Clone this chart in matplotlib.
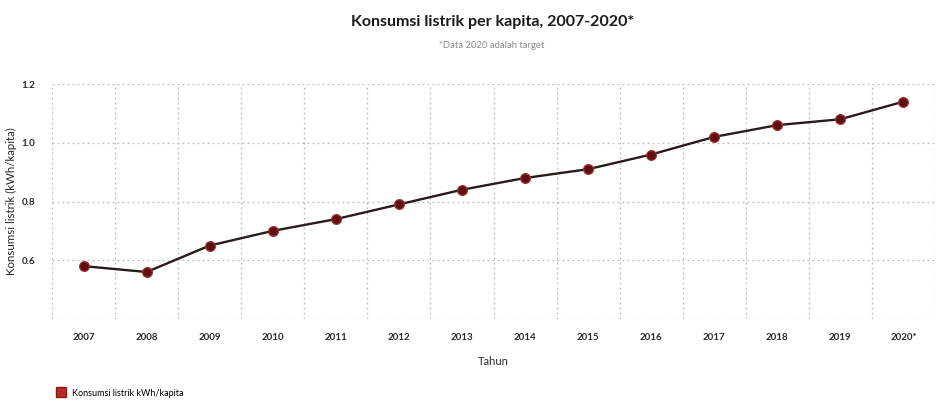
import matplotlib
matplotlib.use("Agg")
import matplotlib.pyplot as plt
from matplotlib.lines import Line2D

years = ["2007", "2008", "2009", "2010", "2011", "2012", "2013",
         "2014", "2015", "2016", "2017", "2018", "2019", "2020*"]
consumption = [0.58, 0.56, 0.65, 0.70, 0.74, 0.79, 0.84,
               0.88, 0.91, 0.96, 1.02, 1.06, 1.08, 1.14]
y_ticks = [0.6, 0.8, 1.0, 1.2]

plt.rcParams["font.family"] = ["Lato", "DejaVu Sans"]

fig = plt.figure(figsize=(9.36, 4.03), dpi=100)
ax = fig.add_axes([52 / 936, 1 - 319 / 403, 883 / 936, 235 / 403])

x = list(range(len(years)))
ax.plot(x, consumption, color="#2a1b1b", lw=1.7, zorder=3)
ax.plot(x, consumption, linestyle="none", marker="o", ms=7,
        mfc="#5e0f12", mec="#a03030", mew=0.9, zorder=4)

ax.set_xlim(-0.5, len(years) - 0.5)
ax.set_ylim(0.4, 1.2)
ax.set_xticks(x)
ax.set_xticklabels(years, fontsize=7, fontweight="bold", color="#2a2a2a")
ax.set_yticks(y_ticks)
ax.set_yticklabels([f"{v:.1f}" for v in y_ticks], fontsize=7,
                   fontweight="bold", color="#2a2a2a")
ax.tick_params(length=0, pad=10)
ax.tick_params(axis="y", pad=12)

# dotted grid: horizontal at value ticks, vertical between categories
grid_kw = dict(color="#bbbbbb", lw=0.9, linestyle=(0, (1.5, 2.5)), zorder=1)
for v in [0.4] + y_ticks:
    ax.axhline(v, **grid_kw)
for b in [i + 0.5 for i in range(-1, len(years))]:
    ax.axvline(b, **grid_kw)

for s in ax.spines.values():
    s.set_visible(False)

ax.set_xlabel("Tahun", fontsize=8, color="#2a2a2a", labelpad=10)
ax.set_ylabel("Konsumsi listrik (kWh/kapita)", fontsize=8.3,
              color="#2a2a2a")
ax.yaxis.set_label_coords((17 - 52) / 883, 0.5)

fig.text(493 / 936, 1 - 22 / 403, "Konsumsi listrik per kapita, 2007-2020*",
         ha="center", va="center", fontsize=11.5, fontweight="bold",
         color="#1a1a1a")
fig.text(492 / 936, 1 - 46 / 403, "*Data 2020 adalah target",
         ha="center", va="center", fontsize=6.8, color="#8a8a8a")

handle = Line2D([], [], linestyle="none", marker="s", ms=7,
                mfc="#b52a2a", mec="#8a1a1a")
fig.legend([handle], ["Konsumsi listrik kWh/kapita"], loc="center left",
           bbox_to_anchor=(48 / 936, 1 - 393 / 403), frameon=False,
           fontsize=6.5, handletextpad=0.3, borderaxespad=0)

fig.savefig("out.png", dpi=100, facecolor="white")
